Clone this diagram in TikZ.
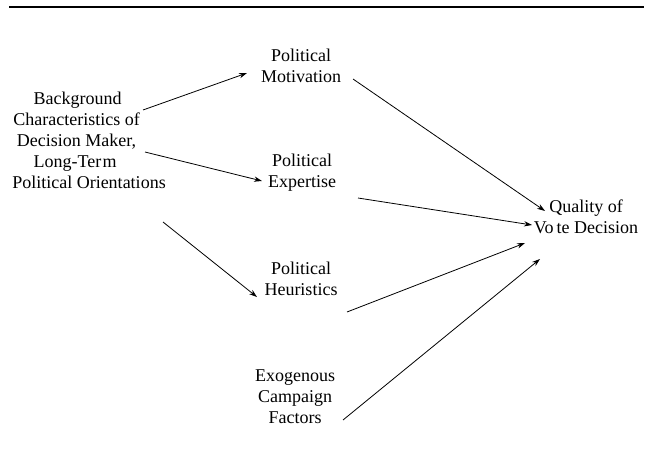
\documentclass[tikz,border=0pt]{standalone}
\usepackage{fontspec}
\setmainfont{Liberation Serif}
\usetikzlibrary{arrows.meta,calc}
\begin{document}
\begin{tikzpicture}[x=0.75pt,y=-0.75pt,
  lbl/.style={align=center,inner sep=0pt,font=\fontsize{13.5}{15.75}\selectfont},
  arr/.style={line width=0.6pt,-{Stealth[length=6pt,width=4pt]}},
  toprule/.style={line width=1.5pt}]
\useasboundingbox (0,0) rectangle (655,453);
\coordinate (rl) at (9,7);
\coordinate (rr) at (644,7);
\draw[toprule] (rl) -- (rr);
\node[lbl,align=left,anchor=west] (bg) at (12,140) {\hspace*{16pt}Background\\\hspace*{0.8pt}Characteristics of\\\hspace*{3.5pt}Decision Maker,\\\hspace*{16pt}Long-Ter\kern1pt m\\Political Orientations};
\node[lbl] (mot) at (301,66) {Political\\Motivation};
\node[lbl] (exp) at (302,173) {Political\\Expertise};
\node[lbl] (heu) at (301,279) {Political\\Heuristics};
\node[lbl] (exo) at (295,397) {Exogenous\\Campaign\\Factors};
\node[lbl] (q) at (586,217) {Quality of\\Vo\,te Decision};
\draw[arr] ($(bg.west)+(131,-30)$) -- ($(mot)+(-54,7)$);
\draw[arr] ($(bg.west)+(133,12)$) -- ($(exp)+(-40,8)$);
\draw[arr] ($(bg.west)+(151,82)$) -- ($(heu)+(-44,18)$);
\draw[arr] ($(mot)+(52,13)$) -- ($(q)+(-41,-6)$);
\draw[arr] ($(exp)+(56,25)$) -- ($(q)+(-54,8)$);
\draw[arr] ($(heu)+(46,33)$) -- ($(q)+(-61,26)$);
\draw[arr] ($(exo)+(48,23)$) -- ($(q)+(-46,42)$);
\end{tikzpicture}
\end{document}
